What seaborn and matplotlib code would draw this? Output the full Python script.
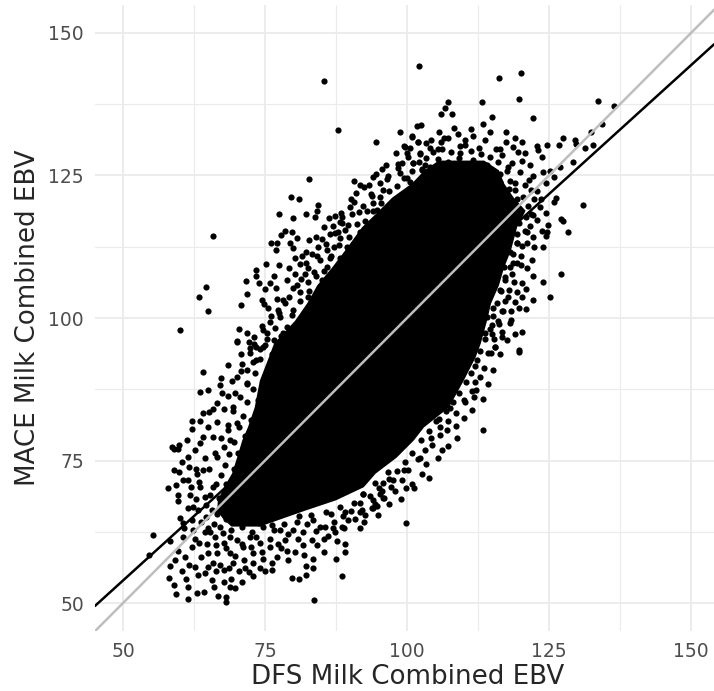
import pandas as pd
import seaborn as sns
import matplotlib.pyplot as plt
from matplotlib.ticker import MultipleLocator

# loose points, by region of the cloud
lower_x = [55.2,54.6,64.0,68.5,70.7,71.0,67.2,67.0,63.6,65.0,67.4,70.0,69.7,65.9,67.8,64.1,62.2,63.6,62.2,65.0,66.5,58.6,59.9,58.9,59.7,61.5,62.7,64.1,65.9,64.4,58.9,59.9,61.6,60.6,61.5,58.0,59.4,59.7,59.7,61.8,61.5,60.0,60.6,62.4,58.3,60.6,62.6,59.7,62.1,59.2,58.2,60.9,61.6,63.7,58.1,61.1,58.9,61.5,59.3,61.4,63.0,64.3,66.7,68.2,68.2,69.7,64.4,65.6,67.7,69.1,70.9,72.1,75.0,76.2,79.8,81.0,82.3,83.5,82.2,83.4,79.1,77.2,76.3,87.5,88.6,83.6,89.0,89.1,87.6,85.3,85.3,83.2,81.7,80.3,78.5,75.9,74.4,72.9,71.2,72.6,69.4,67.7,65.9,65.0,66.5,68.8,70.0,67.7,64.4,66.2,73.5,76.5,80.0,81.7,84.7,86.9,88.6,91.7,89.7,91.7,89.1,94.1,94.7,95.8,94.1,92.3,90.6,86.7,83.5,95.8,94.7,96.7,64.7,64.4,63.6,65.9,63.0,64.1,66.5,68.8,67.7,70.0,68.5,69.4,71.8,72.4,73.5,74.7,70.0,71.8,73.0,65.3,67.1,68.8,70.9,72.3,74.7,77.6,66.5,69.4,72.3,75.0,78.0,81.0]
lower_y = [62.0,58.4,90.6,91.8,93.7,91.9,89.4,88.2,87.1,87.4,86.8,89.7,86.8,84.0,84.1,83.3,81.9,81.9,80.6,80.8,81.8,77.4,77.7,77.0,77.0,75.7,76.8,79.2,79.2,75.4,73.4,73.0,73.9,71.6,71.6,70.2,70.7,68.9,67.9,68.9,66.7,64.9,64.0,66.9,60.8,61.6,61.2,59.2,59.9,57.5,56.5,58.1,56.7,58.1,54.4,54.3,53.2,52.9,51.6,50.8,51.7,52.0,51.2,51.1,50.2,52.6,55.2,54.0,53.7,54.3,53.7,55.5,55.6,55.8,54.4,54.3,55.0,56.1,56.5,57.8,57.5,58.0,57.1,57.7,54.7,50.6,58.9,60.3,60.9,59.0,61.2,61.0,60.2,59.0,61.0,59.9,59.0,58.7,59.9,59.9,57.0,55.8,57.0,58.7,58.7,58.7,61.0,60.5,62.5,61.6,61.6,62.8,62.8,62.5,63.4,63.1,63.4,63.2,64.5,66.0,66.0,66.6,67.0,68.4,68.1,69.2,67.5,65.7,64.6,71.0,74.2,73.0,65.1,68.6,70.4,70.4,72.7,73.3,75.7,78.6,77.4,81.5,80.3,84.4,88.5,93.8,92.6,95.0,95.8,90.9,95.5,62.5,63.4,61.6,63.4,61.6,63.4,62.8,65.7,65.7,65.0,65.0,65.7,65.3]

upper_x = [102.2,85.4,87.9,94.6,98.8,100.8,102.0,101.8,102.4,99.6,100.0,102.3,95.6,98.5,99.1,101.0,102.6,98.8,94.0,96.4,82.8,90.6,91.7,93.3,100.0,91.0,93.6,95.2,95.8,79.6,80.9,84.3,84.2,90.6,89.9,94.1,77.5,82.2,83.8,80.0,86.2,87.3,88.6,91.5,92.9,94.7,85.4,88.2,89.7,78.5,79.7,77.9,86.4,87.9,89.1,91.7,65.9,76.1,77.2,77.0,79.4,80.6,80.0,82.8,83.9,84.3,85.9,87.2,88.2,89.4,82.3,80.3,81.5,84.7,86.4,88.2,75.2,77.4,79.2,82.3,73.5,73.5,76.6,80.2,82.0,83.7,85.9,71.6,73.9,75.8,82.6,85.0,75.0,80.6,81.2,64.6,71.9,63.3,74.4,79.2,82.6,78.2,64.9,70.8,75.6,77.3,80.0,70.4,71.8,70.0,74.7,75.9,77.6,72.1,73.5,75.0,76.5,60.0,75.3,78.2]
upper_y = [144.2,141.6,132.9,130.9,132.7,131.8,130.8,133.7,133.9,130.0,129.0,128.8,126.1,127.0,127.2,127.1,126.1,125.4,124.8,124.4,124.3,124.0,123.4,123.4,124.5,121.9,121.8,121.3,122.5,121.2,120.9,119.8,118.8,120.3,119.5,120.1,118.2,118.3,117.8,117.5,117.5,117.9,117.8,118.6,118.8,118.9,116.0,116.9,116.3,115.3,115.1,114.6,114.7,115.1,115.4,115.1,114.3,113.2,113.1,111.9,113.1,114.0,112.2,113.7,114.2,112.5,111.9,112.4,114.1,112.5,111.6,110.5,110.8,110.2,110.5,110.5,109.5,109.3,108.8,109.6,108.4,107.4,107.4,107.7,107.8,108.1,109.0,106.5,106.2,106.2,106.4,106.7,105.0,105.8,104.6,105.4,104.2,103.7,103.2,103.7,103.7,103.2,101.2,102.2,101.7,101.4,101.4,98.0,97.4,96.0,97.9,99.3,100.2,95.8,95.0,95.3,96.1,97.9,97.3,97.3]

right_x = [116.2,120.0,119.7,113.2,107.3,106.7,106.0,107.9,133.6,136.5,122.2,115.0,113.3,134.3,108.2,111.2,105.7,114.6,117.4,132.4,100.8,107.2,104.2,102.0,105.9,110.2,119.1,120.2,117.5,127.5,129.6,129.7,126.8,124.6,122.8,132.7,131.4,110.2,112.6,115.6,118.7,99.5,104.1,105.5,123.0,119.6,120.8,116.8,123.7,102.3,109.3,120.2,129.2,101.0,121.7,126.9,117.7,104.1,102.6,124.0,125.2,119.9,122.2,125.8,105.0,124.4,119.0,120.8,100.5,116.4,121.9,126.3,125.9,130.9,123.4,124.4,122.2,127.1,127.4,124.8,121.7,128.4,123.7,124.6,121.1,122.1,124.5,121.2,124.0,119.3,119.3,118.1,120.0,122.0,118.7,120.0,117.0,118.4,122.2,127.1,124.0,117.3,116.4,118.0,119.3,121.0,120.3,122.2,125.1,117.3,115.2,116.8,118.3,119.7,121.0,118.3,116.0,115.0,116.7,119.0,120.3,114.9,116.8,115.5,119.8,114.0,113.7,119.8,114.8,115.5,113.3,112.0,112.0,112.1,111.8,110.0,107.6,105.7,108.7,107.0,105.8,104.4,105.5,103.3,103.8,100.8,99.8,97.8,98.9,99.8,96.0,93.9,92.0,102.3,99.4,97.6,95.2,94.4,92.3]
right_y = [142.1,142.9,138.5,137.9,137.9,136.8,135.8,135.7,138.1,137.1,135.1,135.3,134.1,134.0,133.3,133.1,132.6,132.6,132.7,132.6,131.9,131.5,131.2,130.8,130.8,131.3,131.5,130.9,130.9,131.5,131.3,130.5,130.3,130.3,130.2,130.4,129.9,130.4,129.9,129.6,130.0,130.1,129.9,129.7,129.5,129.2,128.9,128.6,128.3,128.9,128.9,127.6,127.4,127.1,126.8,126.5,126.4,126.4,126.0,125.6,125.8,125.6,124.9,124.8,125.4,123.6,123.6,123.3,123.9,123.9,122.5,121.1,120.3,119.8,119.5,118.5,118.0,117.4,117.0,116.3,116.1,115.0,115.3,115.1,115.1,114.2,114.4,113.1,112.4,114.8,113.1,111.6,110.9,110.2,109.6,109.3,109.0,107.7,107.4,107.7,106.3,106.6,104.9,104.9,104.6,105.1,103.6,103.2,103.6,102.9,101.7,101.3,101.3,101.7,101.6,99.7,99.5,98.7,97.5,97.2,97.5,97.2,96.6,94.9,94.4,100.2,97.3,94.1,93.9,94.9,80.3,91.5,88.8,87.4,86.2,85.7,84.3,82.2,81.0,80.3,79.5,77.7,75.5,74.4,71.9,70.8,70.2,69.6,68.2,64.0,68.4,66.6,66.3,75.4,73.3,71.6,69.2,71.0,69.2]

# crowded points just outside the solid part, estimated by eye
near_x = [73.2,74.1,72.8,71.9,71.2,70.4,69.6,68.7,67.9,67.2,66.3,65.4,64.6,66.9,68.2,69.5,70.3,71.4,72.6,73.8,74.9,75.6,76.3,77.8,78.9,79.7,81.2,82.7,83.9,85.4,86.6,88.1,89.8,91.2,92.6,94.1,95.4,96.9,98.2,99.4,100.9,102.1,103.4,104.6,106.1,107.8,109.4,111.3,113.1,114.7,116.1,117.6,118.2,119.1,120.4,121.3,120.9,119.8,119.4,118.6,118.1,117.3,116.6,115.8,115.2,114.6,113.7,112.9,112.4,111.2,110.3,109.2,108.1,106.9,105.1,103.8,102.4,100.9,99.7,98.2,96.9,95.1,93.4,91.8,90.2,88.7,87.2,85.6,83.9,82.4,80.8,79.1,77.3,75.8,74.1,72.7,70.9,69.1,67.6,66.1,64.9,63.7,62.9,63.4,65.1,66.2,67.3,68.4,69.3,70.6,71.8,72.9,74.2,75.3,76.8,77.4,78.6,79.9,81.3,82.6,84.2,85.8,87.3,88.6,90.4,92.2,93.8,95.2,96.7,98.4,100.2,103.1,105.4,107.2,109.1,111.7,114.1,116.3,117.9,119.4,122.4,121.8,120.7,120.2,119.4,118.9,117.8,116.9,116.2,115.4,114.3,113.6,112.8,111.4,110.2,108.7,107.2,105.8,104.2,103.1,101.9,100.2,99.1,97.2,95.6,94.3,92.6,90.8,88.9,87.3,78.4,76.2,73.9,71.6,69.8,68.1,66.8,65.6,80.6,83.1,85.7,88.2]
near_y = [90.4,92.8,87.6,85.3,82.8,80.9,78.2,76.1,74.3,72.4,70.8,68.9,67.2,68.4,70.9,73.6,76.4,79.3,82.1,85.7,88.2,91.3,93.7,96.9,98.4,100.6,102.9,104.8,107.3,108.2,110.9,112.8,114.2,116.4,117.1,118.7,120.2,122.3,123.1,124.6,125.7,127.4,128.1,129.2,129.6,129.1,130.1,129.3,128.8,128.2,127.3,125.8,124.1,122.4,121.2,119.7,117.8,116.6,113.2,111.2,108.9,107.2,104.8,102.7,100.4,98.1,96.3,94.2,92.7,90.4,88.7,86.9,85.2,83.7,81.9,80.2,78.6,76.4,74.8,73.1,71.7,70.2,68.7,67.6,66.1,65.2,64.3,63.4,62.7,63.8,61.2,62.1,60.4,61.2,60.6,62.4,60.3,62.8,62.3,63.8,63.1,64.2,68.3,71.2,73.6,76.4,78.9,81.2,83.7,86.2,88.6,92.2,94.6,96.4,98.3,100.8,102.6,105.3,106.9,108.7,110.8,112.9,114.9,116.6,118.2,119.6,121.4,123.6,124.9,126.3,128.3,126.9,127.9,127.4,128.1,127.8,126.9,125.2,122.7,120.8,120.9,118.3,115.2,112.6,109.7,106.4,103.7,101.2,98.9,96.3,93.8,91.2,89.7,87.2,85.3,83.3,81.9,80.8,78.9,76.9,75.2,73.4,71.6,70.3,69.7,67.4,65.4,64.7,63.1,62.4,63.9,63.7,64.1,65.2,66.3,64.7,66.2,66.4,64.2,65.4,65.9,66.8]

# second ring of crowded points, further out
ring_x = [60.8,62.3,63.4,64.8,66.4,68.1,69.7,71.3,72.8,74.6,77.9,78.9,81.9,84.1,86.1,66.3,67.1,68.6,70.4,72.9,62.6,63.2,64.9,60.4,66.1,68.9,71.4,74.1,62.1,63.2,61.9,62.8,60.3,63.6,61.2,65.2,66.6,68.4,69.2,70.8,72.3,74.4,73.1,76.1,77.2,74.8,78.8,76.9,81.1,83.3,85.1,86.9,88.4,90.1,92.4,94.6,96.3,98.1,100.6,103.4,106.6,108.9,111.6,113.8,116.3,118.4,121.4,122.9,123.6,122.8,122.4,121.2,120.3,119.1,118.2,117.6,116.4,115.2,114.2,113.3,111.4,110.1,108.8,107.3,106.1,102.6,101.2,96.8,94.9,92.4]
ring_y = [63.1,62.9,60.6,60.4,60.1,59.6,58.2,57.6,57.1,57.8,59.6,59.2,58.4,60.1,61.8,55.6,56.6,56.2,55.7,54.8,56.4,54.9,56.3,55.7,52.9,52.9,56.2,56.2,64.6,66.4,70.4,73.6,74.8,78.1,78.6,83.6,85.1,86.3,88.9,90.7,94.8,98.6,96.7,100.4,103.3,102.4,106.6,105.2,109.4,111.3,113.9,116.2,118.4,120.8,122.9,125.2,126.8,128.9,129.8,130.7,131.6,132.2,131.9,131.2,129.6,127.2,124.2,122.3,120.8,117.2,112.4,108.8,106.1,102.8,99.2,96.2,93.7,90.8,88.4,85.8,83.9,82.4,78.9,77.6,76.8,72.7,70.2,67.3,65.4,64.2]

# where the points overlap into solid black: left and right edge per height
core_y = [127.7,126.0,123.7,121.2,118.9,116.0,111.9,108.9,105.8,102.6,99.6,95.6,93.2,89.1,84.4,80.9,78.6,75.6,72.8,70.4,68.1,66.3,64.9,63.5]
core_left = [105.5,103.0,100.8,97.3,95.0,92.0,89.0,86.7,84.1,82.3,80.2,76.5,75.6,74.0,73.1,71.9,70.9,70.0,69.1,67.7,66.6,66.5,67.5,69.0]
core_right = [113.5,116.1,117.0,118.7,120.8,119.3,118.2,117.0,116.1,114.7,114.0,112.9,112.0,109.9,107.3,102.9,101.1,98.1,94.4,92.3,87.4,82.0,78.0,74.0]

line_x = [45.07,154.05]
fit_y = [49.5,148.0]
identity_y = [45.07,154.05]

x_ticks = [50,75,100,125,150]
y_ticks = [50,75,100,125,150]

points = pd.DataFrame({'dfs': lower_x + upper_x + right_x + near_x + ring_x,
                       'mace': lower_y + upper_y + right_y + near_y + ring_y})

sns.set_style('white')
plt.rcParams['font.family'] = 'DejaVu Sans'

fig = plt.figure(figsize=(7.14,6.91), dpi=100)
ax = fig.add_axes([95/714, 60/691, 619/714, 626/691])

ax.fill_betweenx(core_y, core_left, core_right, color='black', lw=0, zorder=3)
sns.scatterplot(data=points, x='dfs', y='mace', color='black', s=20, linewidth=0, ax=ax, zorder=3)
sns.lineplot(x=line_x, y=fit_y, color='black', linewidth=1.8, ax=ax, zorder=4)
sns.lineplot(x=line_x, y=identity_y, color='#bebebe', linewidth=1.8, ax=ax, zorder=5)

ax.set_xlim(45.07,154.05)
ax.set_ylim(45.1,154.9)
ax.set_xticks(x_ticks)
ax.set_yticks(y_ticks)
ax.xaxis.set_minor_locator(MultipleLocator(12.5))
ax.yaxis.set_minor_locator(MultipleLocator(12.5))
ax.grid(which='major', color='#ebebeb', linewidth=1.3)
ax.grid(which='minor', color='#ebebeb', linewidth=0.8)
ax.set_axisbelow(True)
sns.despine(ax=ax, left=True, bottom=True, right=True, top=True)
ax.tick_params(which='both', length=0)
ax.tick_params(axis='both', labelsize=13.5, labelcolor='#4d4d4d', pad=8)

ax.set_xlabel('DFS Milk Combined EBV', fontsize=18.8, labelpad=2, x=0.505)
ax.set_ylabel('MACE Milk Combined EBV', fontsize=18.8, labelpad=5)

fig.savefig('out.png', dpi=100)
